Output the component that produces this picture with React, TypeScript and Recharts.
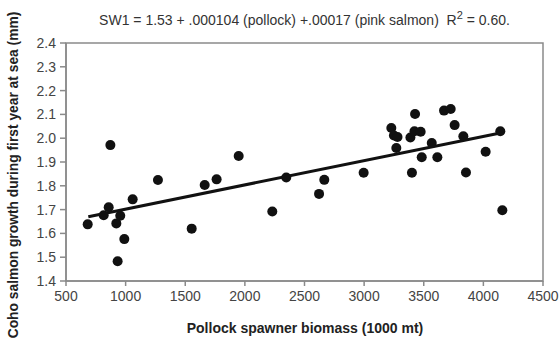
import { Label, ReferenceArea, ReferenceLine, Scatter, ScatterChart, XAxis, YAxis } from 'recharts';

const pollock = [
  682, 816, 858, 872, 922, 955, 933, 989, 1059, 1271, 1554, 1663, 1763, 1948, 2230, 2347,
  2622, 2666, 2996, 3228, 3250, 3280, 3270, 3388, 3427, 3422, 3474, 3401, 3483, 3567, 3614,
  3670, 3726, 3759, 3832, 3854, 4019, 4142, 4159,
];
const growth = [
  1.638, 1.676, 1.71, 1.971, 1.642, 1.674, 1.483, 1.576, 1.743, 1.824, 1.62, 1.803, 1.827, 1.925, 1.692, 1.835,
  1.766, 1.825, 1.855, 2.043, 2.011, 2.005, 1.959, 2.003, 2.102, 2.029, 2.027, 1.855, 1.92, 1.98, 1.92,
  2.116, 2.123, 2.055, 2.008, 1.856, 1.943, 2.029, 1.697,
];
const trendX = [687, 4142];
const trendY = [1.67, 2.022];
const xTicks = [500, 1000, 1500, 2000, 2500, 3000, 3500, 4000, 4500];
const yTicks = [1.4, 1.5, 1.6, 1.7, 1.8, 1.9, 2.0, 2.1, 2.2, 2.3, 2.4];

const points = pollock.map((x, i) => ({ x, y: growth[i] }));
const font = '"Liberation Sans", Arial, sans-serif';
const axisGrey = '#8a8a8a';

export default function App() {
  return (
    <div style={{ position: 'absolute', left: 0, top: 0, width: 560, height: 351, background: '#fff', fontFamily: font }}>
      <div
        style={{
          position: 'absolute',
          left: 66,
          width: 477,
          top: 11,
          textAlign: 'center',
          fontSize: 14,
          color: '#333',
          whiteSpace: 'nowrap',
          lineHeight: '18px',
        }}
      >
        SW1 = 1.53 + .000104 (pollock) +.00017 (pink salmon)&nbsp; R<sup style={{ fontSize: 11, lineHeight: 0 }}>2</sup> = 0.60.
      </div>
      <ScatterChart width={560} height={351} margin={{ top: 43, right: 17, bottom: 40, left: 20 }}>
        <XAxis
          type="number"
          dataKey="x"
          domain={[500, 4500]}
          ticks={xTicks}
          interval={0}
          stroke={axisGrey}
          strokeWidth={1.5}
          tickSize={5}
          tickMargin={5}
          height={30}
          tick={{ fill: '#444', fontSize: 14, fontFamily: font }}
        >
          <Label
            content={() => (
              <text x={305} y={333} textAnchor="middle" fontSize={14} fontWeight="bold" fill="#222" fontFamily={font}>
                Pollock spawner biomass (1000 mt)
              </text>
            )}
          />
        </XAxis>
        <YAxis
          type="number"
          dataKey="y"
          domain={[1.4, 2.4]}
          ticks={yTicks}
          interval={0}
          width={46}
          stroke={axisGrey}
          strokeWidth={1.5}
          tickSize={6}
          tickMargin={4}
          tickFormatter={(v: number) => v.toFixed(1)}
          tick={{ fill: '#444', fontSize: 14, fontFamily: font }}
        >
          <Label
            content={() => (
              <text
                x={18}
                y={175}
                transform="rotate(-90 18 175)"
                textAnchor="middle"
                fontSize={13.8}
                fontWeight="bold"
                fill="#222"
                fontFamily={font}
              >
                Coho salmon growth during first year at sea (mm)
              </text>
            )}
          />
        </YAxis>
        <ReferenceArea x1={500} x2={4500} y1={1.4} y2={2.4} fill="none" stroke={axisGrey} strokeWidth={1.5} />
        <ReferenceLine
          segment={[
            { x: trendX[0], y: trendY[0] },
            { x: trendX[1], y: trendY[1] },
          ]}
          stroke="#111"
          strokeWidth={3}
        />
        <Scatter
          data={points}
          fill="#111"
          isAnimationActive={false}
          shape={(p: any) => <circle cx={p.cx} cy={p.cy} r={5} fill="#111" />}
        />
      </ScatterChart>
    </div>
  );
}
